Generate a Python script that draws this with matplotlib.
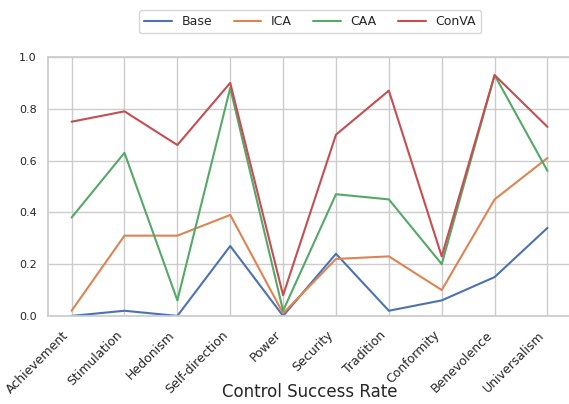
import matplotlib
matplotlib.use("Agg")
import matplotlib.pyplot as plt
import seaborn as sns

sns.set_theme(style="whitegrid", palette="deep")
plt.rcParams['font.family'] = ['DejaVu Sans']

values = ['Achievement', 'Stimulation', 'Hedonism', 'Self-direction', 'Power',
          'Security', 'Tradition', 'Conformity', 'Benevolence', 'Universalism']
base = [0.00, 0.02, 0.00, 0.27, 0.00, 0.24, 0.02, 0.06, 0.15, 0.34]
ica = [0.02, 0.31, 0.31, 0.39, 0.01, 0.22, 0.23, 0.10, 0.45, 0.61]
caa = [0.38, 0.63, 0.06, 0.88, 0.02, 0.47, 0.45, 0.20, 0.93, 0.56]
conva = [0.75, 0.79, 0.66, 0.90, 0.08, 0.70, 0.87, 0.23, 0.93, 0.73]

fig, ax = plt.subplots(figsize=(5.69, 4.04), dpi=100)
fig.subplots_adjust(left=0.084, right=1.004, top=0.859, bottom=0.218)

x = range(len(values))
ax.plot(x, base, label='Base', lw=1.5)
ax.plot(x, ica, label='ICA', lw=1.5)
ax.plot(x, caa, label='CAA', lw=1.5)
ax.plot(x, conva, label='ConVA', lw=1.5)

ax.set_ylim(0, 1.0)
ax.set_xticks(list(x))
ax.set_xticklabels(values, rotation=45, ha='right', fontsize=9)
ax.tick_params(axis='x', pad=3)
ax.tick_params(axis='y', labelsize=8, pad=2)
ax.set_xlabel('Control Success Rate', fontsize=12, va='center')
ax.xaxis.set_label_coords(0.5, -0.293)

fig.legend(loc='center', bbox_to_anchor=(0.545, 0.946), ncol=4, fontsize=9,
           frameon=True, handlelength=2.2, columnspacing=1.7)

fig.savefig('out.png', dpi=100)
